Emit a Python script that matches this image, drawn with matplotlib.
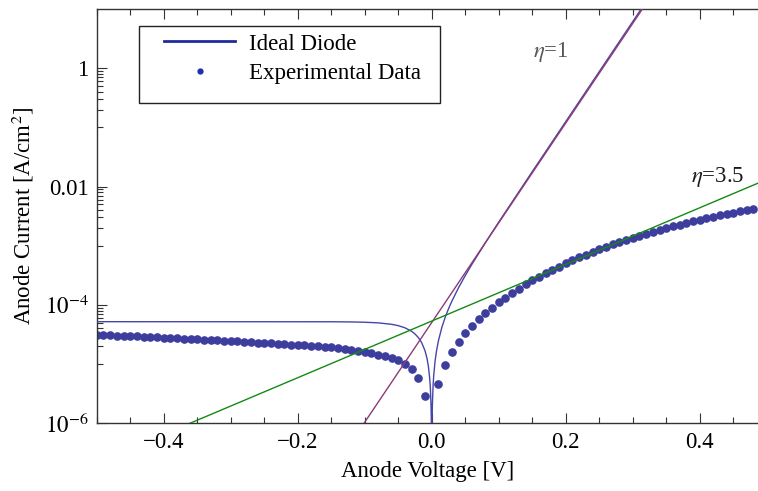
import numpy as np
import matplotlib
matplotlib.use('Agg')
import matplotlib.pyplot as plt
from matplotlib.lines import Line2D
from matplotlib.patches import Rectangle

plt.rcParams['font.family'] = ['Liberation Serif', 'DejaVu Serif']
plt.rcParams['mathtext.fontset'] = 'stix'

volt_mv = [-500, -490, -480, -470, -460, -450, -440, -430, -420, -410,
           -400, -390, -380, -370, -360, -350, -340, -330, -320, -310,
           -300, -290, -280, -270, -260, -250, -240, -230, -220, -210,
           -200, -190, -180, -170, -160, -150, -140, -130, -120, -110,
           -100, -90, -80, -70, -60, -50, -40, -30, -20, -10,
           10, 20, 30, 40, 50, 60, 70, 80, 90, 100,
           110, 120, 130, 140, 150, 160, 170, 180, 190, 200,
           210, 220, 230, 240, 250, 260, 270, 280, 290, 300,
           310, 320, 330, 340, 350, 360, 370, 380, 390, 400,
           410, 420, 430, 440, 450, 460, 470, 480]
current = [3.11e-5, 3.08e-5, 3.05e-5, 3.03e-5, 3.00e-5, 2.97e-5, 2.94e-5, 2.90e-5, 2.86e-5, 2.82e-5,
           2.79e-5, 2.75e-5, 2.72e-5, 2.69e-5, 2.66e-5, 2.63e-5, 2.59e-5, 2.56e-5, 2.52e-5, 2.49e-5,
           2.45e-5, 2.42e-5, 2.38e-5, 2.34e-5, 2.30e-5, 2.26e-5, 2.23e-5, 2.20e-5, 2.17e-5, 2.14e-5,
           2.10e-5, 2.07e-5, 2.02e-5, 1.99e-5, 1.95e-5, 1.91e-5, 1.85e-5, 1.79e-5, 1.74e-5, 1.68e-5,
           1.62e-5, 1.54e-5, 1.45e-5, 1.35e-5, 1.26e-5, 1.16e-5, 1.02e-5, 8.1e-6, 5.75e-6, 2.88e-6,
           4.63e-6, 9.8e-6, 1.61e-5, 2.40e-5, 3.33e-5, 4.42e-5, 5.81e-5, 7.24e-5, 9.02e-5, 1.11e-4,
           1.33e-4, 1.59e-4, 1.88e-4, 2.24e-4, 2.61e-4, 2.97e-4, 3.43e-4, 3.90e-4, 4.44e-4, 5.06e-4,
           5.69e-4, 6.40e-4, 7.08e-4, 7.85e-4, 8.73e-4, 9.66e-4, 1.06e-3, 1.15e-3, 1.25e-3, 1.36e-3,
           1.48e-3, 1.60e-3, 1.72e-3, 1.85e-3, 1.99e-3, 2.13e-3, 2.28e-3, 2.43e-3, 2.59e-3, 2.75e-3,
           2.91e-3, 3.08e-3, 3.26e-3, 3.44e-3, 3.63e-3, 3.83e-3, 4.04e-3, 4.25e-3]

# ── ideal diode curve (sampled off the plot) ────────────────────────────────
ideal_v = [-0.5, -0.15, -0.12, -0.1, -0.08, -0.06, -0.05, -0.04, -0.03, -0.025,
           -0.02, -0.015, -0.01, -0.007, -0.005, -0.003, -0.002, -0.001, -0.0005, -0.0002,
           0.0002, 0.0005, 0.001, 0.002, 0.003, 0.005, 0.007, 0.01, 0.015, 0.02,
           0.025, 0.03, 0.04, 0.05, 0.06, 0.08, 0.1, 0.15, 0.2, 0.25, 0.3, 0.32]
ideal_j = [5.2e-5, 5.185e-5, 5.15e-5, 5.09e-5, 4.97e-5, 4.70e-5, 4.46e-5, 4.10e-5, 3.58e-5, 3.23e-5,
           2.81e-5, 2.30e-5, 1.68e-5, 1.24e-5, 9.2e-6, 5.7e-6, 3.9e-6, 1.99e-6, 1.0e-6, 4.0e-7,
           4.0e-7, 1.02e-6, 2.06e-6, 4.2e-6, 6.4e-6, 1.12e-5, 1.63e-5, 2.47e-5, 4.12e-5, 6.13e-5,
           8.56e-5, 1.151e-4, 1.946e-4, 3.12e-4, 4.85e-4, 1.118e-3, 2.5e-3, 1.78e-2, 0.1248, 0.873, 6.11, 13.3]

# ── ideality lines (end points at the frame) ────────────────────────────────
eta1_v = [-0.101, 0.3145]
eta1_j = [1e-6, 10.0]
eta35_v = [-0.3607, 0.487]
eta35_j = [1e-6, 1.14e-2]

x_ticks = [-0.4, -0.2, 0.0, 0.2, 0.4]
x_labels = ['\u22120.4', '\u22120.2', '0.0', '0.2', '0.4']
y_ticks = [1e-6, 1e-4, 1e-2, 1.0]
y_labels = [r'$10^{-6}$', r'$10^{-4}$', '0.01', '1']

FS = 16.5
fig = plt.figure(figsize=(7.58, 4.91), dpi=100)
ax = fig.add_axes([0.1276, 0.138, 0.8724, 0.8437])

volt = np.array(volt_mv) / 1000.0
ax.plot(volt, current, ls='none', marker='o', ms=5.2, mfc='#3d3d9e', mec='#3d3d9e', zorder=2)
ax.plot(ideal_v, ideal_j, color='#4646a8', lw=1.0, zorder=3)
ax.plot(eta1_v, eta1_j, color='#8e3b74', lw=1.0, zorder=3)
ax.plot(eta35_v, eta35_j, color='#138a13', lw=1.0, zorder=3)

ax.set_yscale('log')
ax.set_xticks(x_ticks)
ax.set_xticklabels(x_labels)
ax.set_xticks(np.arange(-0.5, 0.49, 0.05), minor=True)
ax.set_yticks(y_ticks)
ax.set_yticklabels(y_labels)
ax.set_yticks([m * s for m in y_ticks for s in np.arange(0.1, 1.0, 0.1)], minor=True)
ax.yaxis.set_minor_formatter(matplotlib.ticker.NullFormatter())
ax.set_xlim(-0.5, 0.487)
ax.set_ylim(1e-6, 10)

ax.tick_params(which='both', direction='in', top=True, right=False, labelsize=FS,
               color='#333333', width=0.8)
ax.tick_params(which='major', length=7, pad=6)
ax.tick_params(which='minor', length=4)
for side in ['left', 'bottom', 'top']:
    ax.spines[side].set_color('#333333')
    ax.spines[side].set_linewidth(1.0)
ax.spines['right'].set_visible(False)

ax.set_xlabel('Anode Voltage [V]', fontsize=FS, labelpad=6)
ax.set_ylabel(r'Anode Current [A/cm$^2$]', fontsize=FS, labelpad=6)

ax.text(0.178, 1.9, r'$\eta$=1', fontsize=FS, color='#555555', ha='center', va='center')
ax.text(0.427, 0.0145, r'$\eta$=3.5', fontsize=FS, color='#1a1a1a', ha='center', va='center')

# legend: frameless entries + a plain box drawn around them
handles = [Line2D([], [], color='#1f2a9c', lw=2.0),
           Line2D([], [], ls='none', marker='o', ms=3.5, color='#1f2fa8')]
leg = ax.legend(handles, ['Ideal Diode', 'Experimental Data'], loc='upper left',
                bbox_to_anchor=(0.1018, 0.9409), borderaxespad=0, borderpad=0,
                fontsize=FS, frameon=False, handlelength=3.1, handletextpad=0.6,
                labelspacing=0.38)
box = Rectangle((0.064, 0.7731), 0.455, 0.1866, transform=ax.transAxes,
                fill=True, facecolor='white', edgecolor='#222222', lw=1.0, zorder=4)
ax.add_patch(box)
leg.set_zorder(5)

fig.savefig('out.png', dpi=100)
